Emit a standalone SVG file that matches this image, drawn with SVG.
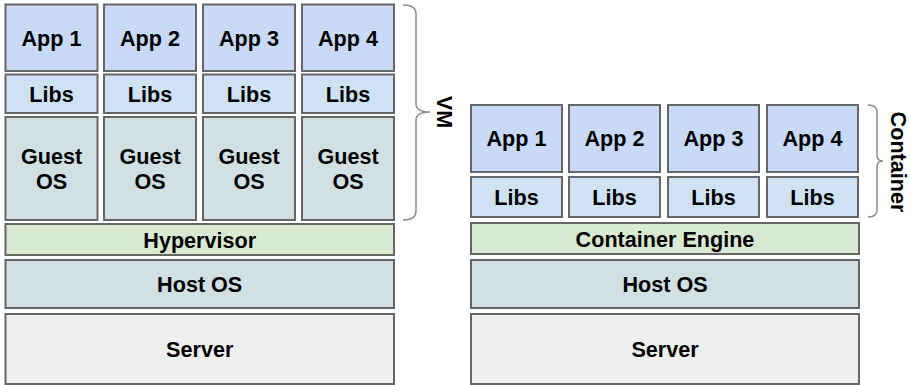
<svg xmlns="http://www.w3.org/2000/svg" width="910" height="385" viewBox="0 0 910 385">
  <style>
    .box { stroke: #666666; stroke-width: 2; }
    .app { fill: #c9daf8; }
    .libs { fill: #cfe2f3; }
    .os { fill: #d0e0e3; }
    .engine { fill: #d9ead3; }
    .server { fill: #efefef; }
    text { font-family: "Liberation Sans", Arial, sans-serif; font-weight: bold; font-size: 21.6px; fill: #000000; text-anchor: middle; }
    .brace { fill: none; stroke: #8c8c8c; stroke-width: 1.5; }
  </style>
  <rect width="910" height="385" fill="#ffffff"/>

  <!-- Virtual machine stack -->
  <g id="vm-app1"><rect class="box app" x="5.5" y="4.5" width="92" height="66.5"/><text x="51.5" y="45.5">App 1</text></g>
  <g id="vm-app2"><rect class="box app" x="104" y="4.5" width="92" height="66.5"/><text x="150" y="45.5">App 2</text></g>
  <g id="vm-app3"><rect class="box app" x="203" y="4.5" width="92" height="66.5"/><text x="249" y="45.5">App 3</text></g>
  <g id="vm-app4"><rect class="box app" x="302" y="4.5" width="92" height="66.5"/><text x="348" y="45.5">App 4</text></g>

  <g id="vm-libs1"><rect class="box libs" x="5.5" y="74.5" width="92" height="38.5"/><text x="51.5" y="101.5">Libs</text></g>
  <g id="vm-libs2"><rect class="box libs" x="104" y="74.5" width="92" height="38.5"/><text x="150" y="101.5">Libs</text></g>
  <g id="vm-libs3"><rect class="box libs" x="203" y="74.5" width="92" height="38.5"/><text x="249" y="101.5">Libs</text></g>
  <g id="vm-libs4"><rect class="box libs" x="302" y="74.5" width="92" height="38.5"/><text x="348" y="101.5">Libs</text></g>

  <g id="vm-guest1"><rect class="box os" x="5.5" y="117" width="92" height="103"/><text x="51.5" y="164">Guest</text><text x="51.5" y="189">OS</text></g>
  <g id="vm-guest2"><rect class="box os" x="104" y="117" width="92" height="103"/><text x="150" y="164">Guest</text><text x="150" y="189">OS</text></g>
  <g id="vm-guest3"><rect class="box os" x="203" y="117" width="92" height="103"/><text x="249" y="164">Guest</text><text x="249" y="189">OS</text></g>
  <g id="vm-guest4"><rect class="box os" x="302" y="117" width="92" height="103"/><text x="348" y="164">Guest</text><text x="348" y="189">OS</text></g>

  <g id="vm-hypervisor"><rect class="box engine" x="5.5" y="224" width="388.5" height="31"/><text x="199.7" y="247.5">Hypervisor</text></g>
  <g id="vm-host"><rect class="box os" x="5.5" y="260" width="388.5" height="48"/><text x="199.7" y="291.5">Host OS</text></g>
  <g id="vm-server"><rect class="box server" x="5.5" y="314" width="388.5" height="70"/><text x="199.7" y="357">Server</text></g>

  <!-- Container stack -->
  <g id="ct-app1"><rect class="box app" x="471" y="105" width="91" height="67"/><text x="516.5" y="146">App 1</text></g>
  <g id="ct-app2"><rect class="box app" x="569" y="105" width="91" height="67"/><text x="614.5" y="146">App 2</text></g>
  <g id="ct-app3"><rect class="box app" x="668" y="105" width="91" height="67"/><text x="713.5" y="146">App 3</text></g>
  <g id="ct-app4"><rect class="box app" x="767" y="105" width="91" height="67"/><text x="812.5" y="146">App 4</text></g>

  <g id="ct-libs1"><rect class="box libs" x="471" y="177" width="91" height="40"/><text x="516.5" y="204.5">Libs</text></g>
  <g id="ct-libs2"><rect class="box libs" x="569" y="177" width="91" height="40"/><text x="614.5" y="204.5">Libs</text></g>
  <g id="ct-libs3"><rect class="box libs" x="668" y="177" width="91" height="40"/><text x="713.5" y="204.5">Libs</text></g>
  <g id="ct-libs4"><rect class="box libs" x="767" y="177" width="91" height="40"/><text x="812.5" y="204.5">Libs</text></g>

  <g id="ct-engine"><rect class="box engine" x="471" y="223" width="388" height="31"/><text x="665" y="246.5">Container Engine</text></g>
  <g id="ct-host"><rect class="box os" x="471" y="260" width="388" height="48"/><text x="665" y="291.5">Host OS</text></g>
  <g id="ct-server"><rect class="box server" x="471" y="314" width="388" height="70"/><text x="665" y="357">Server</text></g>

  <!-- Braces grouping each stack -->
  <g id="braces">
    <path class="brace" d="M403,5 Q416,5 416,14 L416,104 Q416,112 430,112 Q416,112 416,120 L416,211 Q416,220 403,220"/>
    <path class="brace" d="M868,105 Q877,105 877,112 L877,155 Q877,161 883,161 Q877,161 877,167 L877,210 Q877,217 868,217"/>
  </g>

  <g id="label-vm"><text transform="translate(437,112) rotate(90)" x="0" y="0">VM</text></g>
  <g id="label-container"><text transform="translate(891,162) rotate(90)" x="0" y="0">Container</text></g>
</svg>
